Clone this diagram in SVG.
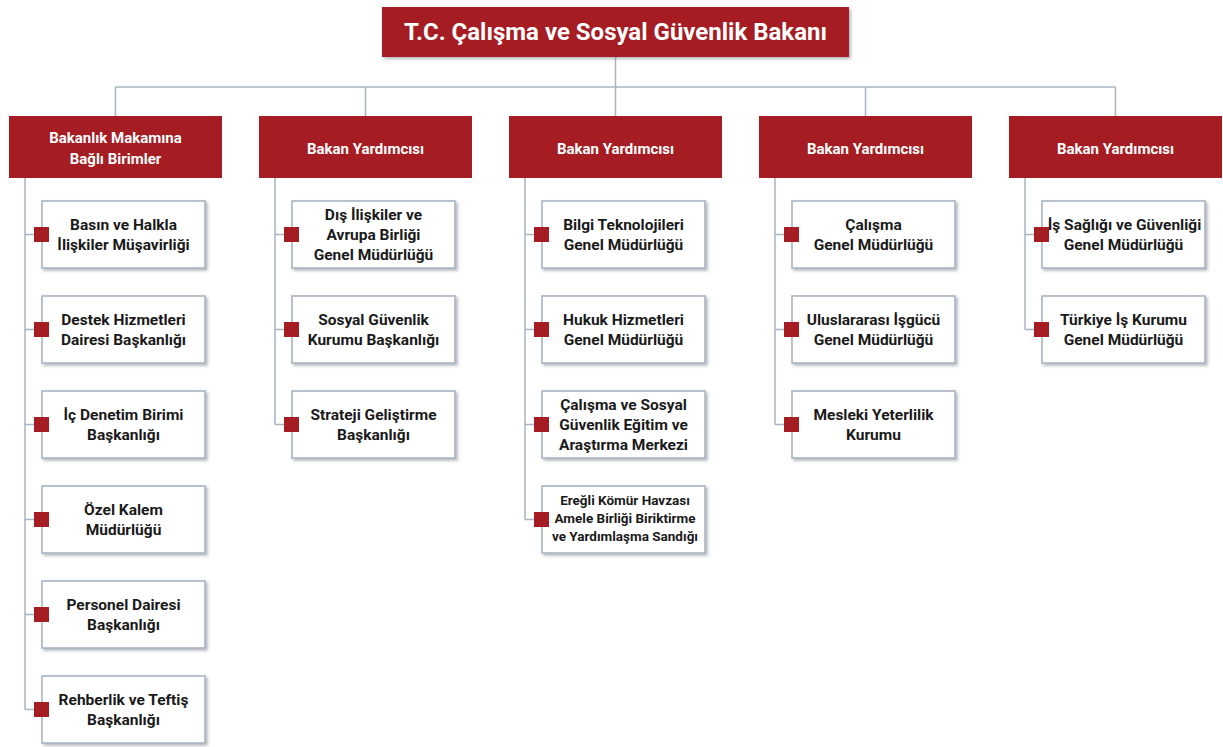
<svg xmlns="http://www.w3.org/2000/svg" width="1223" height="747" viewBox="0 0 1223 747">
<defs>
<filter id="sh" x="-10%" y="-10%" width="125%" height="130%">
<feDropShadow dx="2" dy="2" stdDeviation="1.5" flood-color="#5a6270" flood-opacity="0.45"/>
</filter>
<style>
.hdr{fill:#a51d22}
.box{fill:#fff;stroke:#a9b4c3;stroke-width:1.6;filter:url(#sh)}
.sq{fill:#a51d22}
.ln{fill:none;stroke:#a9b4c3;stroke-width:1.5}
.t{font-family:Roboto,"Liberation Sans",sans-serif;font-weight:bold;font-size:15.5px;fill:#1a1a1a;text-anchor:middle}
.ts{font-size:13.5px}
.ht{font-family:Roboto,"Liberation Sans",sans-serif;font-weight:bold;font-size:15px;fill:#fff;text-anchor:middle}
.tt{font-family:Roboto,"Liberation Sans",sans-serif;font-weight:bold;font-size:24px;fill:#fff;text-anchor:middle}
</style>
</defs>
<rect width="1223" height="747" fill="#fff"/>

<g id="connectors">
<path class="ln" d="M615.5 57V87M115.5 87H1115.5M115.5 87V116M365.5 87V116M615.5 87V116M865.5 87V116M1115.5 87V116"/>
<path class="ln" d="M25 178V709.5M25 234.5H34M25 329.5H34M25 424.5H34M25 519.5H34M25 614.5H34M25 709.5H34"/>
<path class="ln" d="M275 178V424.5M275 234.5H284M275 329.5H284M275 424.5H284"/>
<path class="ln" d="M525 178V519.5M525 234.5H534M525 329.5H534M525 424.5H534M525 519.5H534"/>
<path class="ln" d="M775 178V424.5M775 234.5H784M775 329.5H784M775 424.5H784"/>
<path class="ln" d="M1025 178V329.5M1025 234.5H1034M1025 329.5H1034"/>
</g>

<g id="title">
<rect class="hdr" x="382" y="7" width="467" height="50" filter="url(#sh)"/>
<text class="tt" x="615.5" y="40" textLength="423" lengthAdjust="spacingAndGlyphs">T.C. Çalışma ve Sosyal Güvenlik Bakanı</text>
</g>

<g id="h1"><rect class="hdr" x="9" y="116" width="213" height="62"/><text class="ht" x="115.5" y="143">Bakanlık Makamına</text><text class="ht" x="115.5" y="164">Bağlı Birimler</text></g>
<g id="h2"><rect class="hdr" x="259" y="116" width="213" height="62"/><text class="ht" x="365.5" y="154">Bakan Yardımcısı</text></g>
<g id="h3"><rect class="hdr" x="509" y="116" width="213" height="62"/><text class="ht" x="615.5" y="154">Bakan Yardımcısı</text></g>
<g id="h4"><rect class="hdr" x="759" y="116" width="213" height="62"/><text class="ht" x="865.5" y="154">Bakan Yardımcısı</text></g>
<g id="h5"><rect class="hdr" x="1009" y="116" width="213" height="62"/><text class="ht" x="1115.5" y="154">Bakan Yardımcısı</text></g>

<g id="c1n1"><rect class="box" x="42" y="201" width="163" height="67"/><rect class="sq" x="34" y="227" width="15" height="15"/><text class="t" x="123.5" y="229.5">Basın ve Halkla</text><text class="t" x="123.5" y="249.5">İlişkiler Müşavirliği</text></g>
<g id="c1n2"><rect class="box" x="42" y="296" width="163" height="67"/><rect class="sq" x="34" y="322" width="15" height="15"/><text class="t" x="123.5" y="324.5">Destek Hizmetleri</text><text class="t" x="123.5" y="344.5">Dairesi Başkanlığı</text></g>
<g id="c1n3"><rect class="box" x="42" y="391" width="163" height="67"/><rect class="sq" x="34" y="417" width="15" height="15"/><text class="t" x="123.5" y="419.5">İç Denetim Birimi</text><text class="t" x="123.5" y="439.5">Başkanlığı</text></g>
<g id="c1n4"><rect class="box" x="42" y="486" width="163" height="67"/><rect class="sq" x="34" y="512" width="15" height="15"/><text class="t" x="123.5" y="514.5">Özel Kalem</text><text class="t" x="123.5" y="534.5">Müdürlüğü</text></g>
<g id="c1n5"><rect class="box" x="42" y="581" width="163" height="67"/><rect class="sq" x="34" y="607" width="15" height="15"/><text class="t" x="123.5" y="609.5">Personel Dairesi</text><text class="t" x="123.5" y="629.5">Başkanlığı</text></g>
<g id="c1n6"><rect class="box" x="42" y="676" width="163" height="67"/><rect class="sq" x="34" y="702" width="15" height="15"/><text class="t" x="123.5" y="704.5">Rehberlik ve Teftiş</text><text class="t" x="123.5" y="724.5">Başkanlığı</text></g>

<g id="c2n1"><rect class="box" x="292" y="201" width="163" height="67"/><rect class="sq" x="284" y="227" width="15" height="15"/><text class="t" x="373.5" y="220">Dış İlişkiler ve</text><text class="t" x="373.5" y="240">Avrupa Birliği</text><text class="t" x="373.5" y="260">Genel Müdürlüğü</text></g>
<g id="c2n2"><rect class="box" x="292" y="296" width="163" height="67"/><rect class="sq" x="284" y="322" width="15" height="15"/><text class="t" x="373.5" y="324.5">Sosyal Güvenlik</text><text class="t" x="373.5" y="344.5">Kurumu Başkanlığı</text></g>
<g id="c2n3"><rect class="box" x="292" y="391" width="163" height="67"/><rect class="sq" x="284" y="417" width="15" height="15"/><text class="t" x="373.5" y="419.5">Strateji Geliştirme</text><text class="t" x="373.5" y="439.5">Başkanlığı</text></g>

<g id="c3n1"><rect class="box" x="542" y="201" width="163" height="67"/><rect class="sq" x="534" y="227" width="15" height="15"/><text class="t" x="623.5" y="229.5">Bilgi Teknolojileri</text><text class="t" x="623.5" y="249.5">Genel Müdürlüğü</text></g>
<g id="c3n2"><rect class="box" x="542" y="296" width="163" height="67"/><rect class="sq" x="534" y="322" width="15" height="15"/><text class="t" x="623.5" y="324.5">Hukuk Hizmetleri</text><text class="t" x="623.5" y="344.5">Genel Müdürlüğü</text></g>
<g id="c3n3"><rect class="box" x="542" y="391" width="163" height="67"/><rect class="sq" x="534" y="417" width="15" height="15"/><text class="t" x="623.5" y="410">Çalışma ve Sosyal</text><text class="t" x="623.5" y="430">Güvenlik Eğitim ve</text><text class="t" x="623.5" y="450">Araştırma Merkezi</text></g>
<g id="c3n4"><rect class="box" x="542" y="486" width="163" height="67"/><rect class="sq" x="534" y="512" width="15" height="15"/><text class="t ts" x="625" y="505">Ereğli Kömür Havzası</text><text class="t ts" x="625" y="523">Amele Birliği Biriktirme</text><text class="t ts" x="625" y="541">ve Yardımlaşma Sandığı</text></g>

<g id="c4n1"><rect class="box" x="792" y="201" width="163" height="67"/><rect class="sq" x="784" y="227" width="15" height="15"/><text class="t" x="873.5" y="229.5">Çalışma</text><text class="t" x="873.5" y="249.5">Genel Müdürlüğü</text></g>
<g id="c4n2"><rect class="box" x="792" y="296" width="163" height="67"/><rect class="sq" x="784" y="322" width="15" height="15"/><text class="t" x="873.5" y="324.5">Uluslararası İşgücü</text><text class="t" x="873.5" y="344.5">Genel Müdürlüğü</text></g>
<g id="c4n3"><rect class="box" x="792" y="391" width="163" height="67"/><rect class="sq" x="784" y="417" width="15" height="15"/><text class="t" x="873.5" y="419.5">Mesleki Yeterlilik</text><text class="t" x="873.5" y="439.5">Kurumu</text></g>

<g id="c5n1"><rect class="box" x="1042" y="201" width="163" height="67"/><rect class="sq" x="1034" y="227" width="15" height="15"/><text class="t" x="1124.5" y="229.5">İş Sağlığı ve Güvenliği</text><text class="t" x="1123.5" y="249.5">Genel Müdürlüğü</text></g>
<g id="c5n2"><rect class="box" x="1042" y="296" width="163" height="67"/><rect class="sq" x="1034" y="322" width="15" height="15"/><text class="t" x="1123.5" y="324.5">Türkiye İş Kurumu</text><text class="t" x="1123.5" y="344.5">Genel Müdürlüğü</text></g>
</svg>
